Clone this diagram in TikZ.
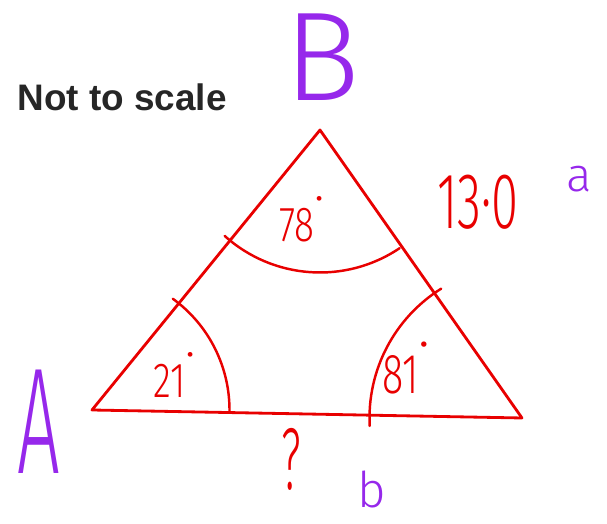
\documentclass[tikz,border=0pt]{standalone}
\usepackage{fontspec}
\newfontfamily\labelfont{Liberation Sans}
\newfontfamily\handfont{Fira Sans Light}
\definecolor{penred}{RGB}{232,0,0}
\definecolor{penpurple}{RGB}{150,40,235}
\newcommand{\narrow}[2]{\scalebox{#1}[1]{#2}}
\newcommand{\degdot}{\raisebox{.55em}{·}}
\tikzset{
  side/.style={penred, line width=1.6pt, line join=round, line cap=round},
  anglearc/.style={penred, line width=1.4pt, line cap=round},
  hand/.style={inner sep=0pt, font=\handfont},
  measure/.style={hand, text=penred},
  vertexname/.style={hand, text=penpurple},
}
\begin{document}
\begin{tikzpicture}
    \useasboundingbox (0,0) rectangle (12.14,10.48);
    % Parameters
    \def\rA{2.75} % radius of the angle arc at A
    \def\rB{2.85} % radius of the angle arc at B
    \def\rC{3.05} % radius of the angle arc at C

    % Corners of the triangle
    \coordinate (A) at (1.84, 2.28);
    \coordinate (B) at (6.40, 7.88);
    \coordinate (C) at (10.44, 2.12);

    % Draw the triangle
    \draw[side] (A) -- (B) -- (C) -- cycle;

    % Angle arcs
    \draw[anglearc] ([shift={(-1:\rA)}]A) arc[start angle=-1, end angle=54, radius=\rA];
    \draw[anglearc] ([shift={(228:\rB)}]B) arc[start angle=228, end angle=304, radius=\rB];
    \draw[anglearc] ([shift={(122:\rC)}]C) arc[start angle=122, end angle=183, radius=\rC];

    % Caption
    \node[inner sep=0pt, font=\labelfont\bfseries\fontsize{21}{25}\selectfont, text=black!85]
        (note) at (2.44, 8.54) {Not to scale};

    % Names of the corners
    \node[vertexname, font=\handfont\fontsize{72}{80}\selectfont] (nameB) at (6.44, 9.34) {B};
    \node[vertexname, font=\handfont\fontsize{86}{90}\selectfont] (nameA) at (0.78, 2.04) {\narrow{.5}{A}};

    % Angles
    \node[measure, font=\handfont\fontsize{28}{30}\selectfont] (angB) at (6.04, 6.10) {\narrow{.75}{78}\degdot};
    \node[measure, font=\handfont\fontsize{28}{30}\selectfont] (angA) at (3.50, 2.98) {\narrow{.75}{21}\degdot};
    \node[measure, font=\handfont\fontsize{32}{34}\selectfont] (angC) at (8.12, 3.12) {\narrow{.7}{81}\degdot};

    % Sides
    \node[measure, font=\handfont\fontsize{45}{48}\selectfont] (sidea) at (9.56, 6.44) {\narrow{.62}{13·0}};
    \node[vertexname, font=\handfont\fontsize{27}{30}\selectfont] (namea) at (11.58, 6.90) {a};
    \node[measure, font=\handfont\fontsize{50}{54}\selectfont] (sideb) at (5.82, 1.30) {\narrow{.5}{?}};
    \node[vertexname, font=\handfont\fontsize{28}{30}\selectfont] (nameb) at (7.44, 0.70) {b};
\end{tikzpicture}
\end{document}
